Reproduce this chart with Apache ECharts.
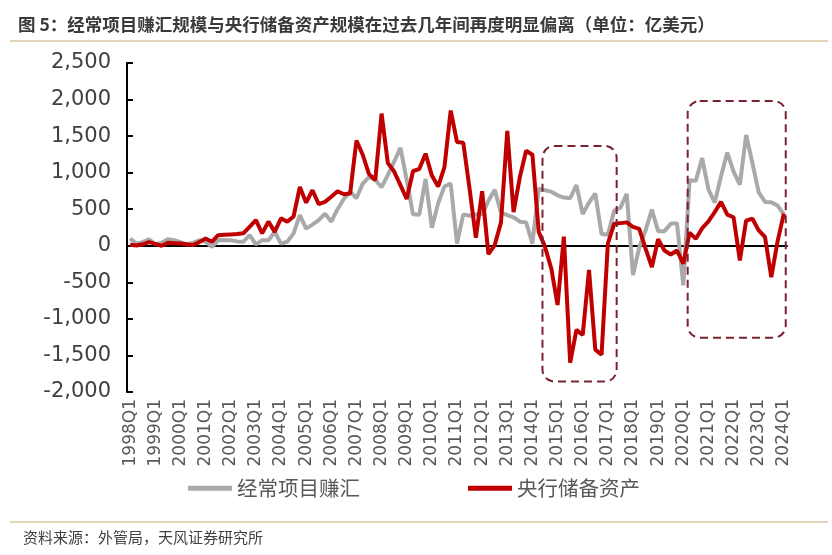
<!DOCTYPE html>
<html><head><meta charset="utf-8">
<script src="https://cdn.jsdelivr.net/npm/echarts@6/dist/echarts.min.js"></script>
<style>html,body{margin:0;padding:0;background:#fff}#c{width:832px;height:555px}</style>
</head><body><div id="c"></div>
<script>
// Quarter categories 1998Q1 .. 2024Q1
const startYear = 1998, endYear = 2024;
const categories = [];
for (let y = startYear; y <= endYear; y++) {
  for (let q = 1; q <= 4; q++) {
    if (y === endYear && q > 1) break;
    categories.push(y + 'Q' + q);
  }
}
// 经常项目赚汇 (亿美元)
const currentAccount = [
  100, 30, 50, 90,
  20, 40, 90, 75,
  50, 20, 40, 75,
  55, -15, 75, 80,
  75, 60, 55, 145,
  20, 75, 75, 190,
  30, 55, 170, 420,
  235, 290, 350, 440,
  330, 500, 640, 740,
  650, 850, 940, 900,
  800, 970, 1150, 1340,
  900, 430, 425, 915,
  245, 580, 810, 850,
  30, 430, 410, 430,
  430, 615, 765, 455,
  420, 390, 330, 320,
  30, 780, 760, 740,
  690, 660, 650, 830,
  435, 590, 715, 160,
  150, 480, 520, 710,
  -400, -20, 210, 495,
  200, 200, 300, 310,
  -540, 895, 890, 1200,
  770, 590, 950, 1275,
  1015, 835, 1515, 1130,
  730, 600, 595, 550,
  430
];
// 央行储备资产 (亿美元)
const reserveAssets = [
  15, 5, 20, 50,
  25, 0, 40, 35,
  30, 20, 10, 50,
  100, 55, 145, 150,
  155, 160, 170, 260,
  350, 170, 330, 190,
  375, 330, 400, 805,
  590, 760, 570, 600,
  670, 745, 705, 715,
  1440, 1245, 980, 900,
  1808, 1130, 1015, 830,
  640, 1020, 1050, 1260,
  960, 810, 1075, 1850,
  1420, 1410, 780, 110,
  745, -115, 10, 320,
  1570, 460, 940, 1300,
  1245, 190, -15, -310,
  -810, 125, -1600, -1150,
  -1220, -330, -1420, -1490,
  30, 300, 310, 320,
  260, 230, -40, -290,
  90, -65, -120, -65,
  -245, 180, 95, 240,
  335, 460, 600, 425,
  390, -200, 345, 370,
  210, 120, -428, 60,
  440
];
const seriesNames = ['经常项目赚汇', '央行储备资产'];
const yTicks = { min: -2000, max: 2500, interval: 500 };
// highlighted periods: [category index from, to, value top, value bottom]
const highlightBoxes = [
  [65.6, 77.4, 1366, -1858],
  [88.7, 104.3, 1981, -1257]
];
const titleText = '图 5：经常项目赚汇规模与央行储备资产规模在过去几年间再度明显偏离（单位：亿美元）';
const sourceText = '资料来源：外管局，天风证券研究所';

const chart = echarts.init(document.getElementById('c'));
const cjk = '"Noto Sans CJK SC", "Noto Sans", sans-serif';
const option = {
  animation: false,
  backgroundColor: '#fff',
  title: {
    text: titleText, left: 13, top: 11,
    textStyle: { fontSize: 17.5, fontWeight: 'bold', color: '#3a3a3a', fontFamily: cjk }
  },
  grid: { left: 127, right: 45, top: 63, bottom: 163 },
  legend: {
    data: seriesNames, left: 183, top: 473, icon: 'rect',
    itemWidth: 44, itemHeight: 5, itemGap: 108,
    textStyle: { fontSize: 20.5, color: '#595959', fontFamily: cjk }
  },
  xAxis: [{
    type: 'category', data: categories, boundaryGap: true,
    axisLine: { onZero: true, lineStyle: { color: '#000', width: 2 } },
    axisTick: { inside: true, interval: 3, length: 5, lineStyle: { color: '#000', width: 2 } },
    axisLabel: { show: false }, splitLine: { show: false }
  }, {
    type: 'category', data: categories, boundaryGap: true, position: 'bottom',
    axisLine: { show: false, onZero: false }, axisTick: { show: false },
    axisLabel: { interval: 3, rotate: 90, fontSize: 17, color: '#595959', fontFamily: 'DejaVu Sans', margin: 7 }
  }],
  yAxis: {
    type: 'value', min: yTicks.min, max: yTicks.max, interval: yTicks.interval,
    axisLine: { show: true, lineStyle: { color: '#000', width: 2 } },
    axisTick: { show: true, inside: true, length: 6, lineStyle: { color: '#000', width: 2 } },
    splitLine: { show: false },
    axisLabel: { formatter: v => v.toLocaleString('en-US'), fontSize: 21, color: '#404040', fontFamily: 'DejaVu Sans', margin: 16 }
  },
  series: [{
    name: seriesNames[0], type: 'line', data: currentAccount, showSymbol: false, z: 2,
    lineStyle: { color: '#a9a9a9', width: 4 }, itemStyle: { color: '#a9a9a9' }
  }, {
    name: seriesNames[1], type: 'line', data: reserveAssets, showSymbol: false, z: 3,
    lineStyle: { color: '#c00000', width: 4 }, itemStyle: { color: '#c00000' }
  }],
  graphic: [
    { type: 'line', id: 'topline', shape: { x1: 10, y1: 41, x2: 828, y2: 41 }, style: { stroke: '#c8aa70', lineWidth: 1 } },
    { type: 'line', id: 'botline', shape: { x1: 10, y1: 522, x2: 828, y2: 522 }, style: { stroke: '#c8aa70', lineWidth: 1 } },
    { type: 'text', id: 'src', left: 23, top: 530, style: { text: sourceText, fontSize: 15, fill: '#404040', fontFamily: cjk } }
  ]
};
chart.setOption(option);

const p0 = chart.convertToPixel({ xAxisIndex: 0 }, 0);
const p1 = chart.convertToPixel({ xAxisIndex: 0 }, 1);
const step = p1 - p0;
const boxes = highlightBoxes.map((b, k) => {
  const x1 = p0 + b[0] * step, x2 = p0 + b[1] * step;
  const y1 = chart.convertToPixel({ yAxisIndex: 0 }, b[2]);
  const y2 = chart.convertToPixel({ yAxisIndex: 0 }, b[3]);
  return {
    type: 'rect', id: 'box' + k, z: 10,
    shape: { x: x1, y: y1, width: x2 - x1, height: y2 - y1, r: 12 },
    style: { fill: 'none', stroke: '#7a2230', lineWidth: 2, lineDash: [8, 5] }
  };
});
chart.setOption({ graphic: boxes });
</script></body></html>
